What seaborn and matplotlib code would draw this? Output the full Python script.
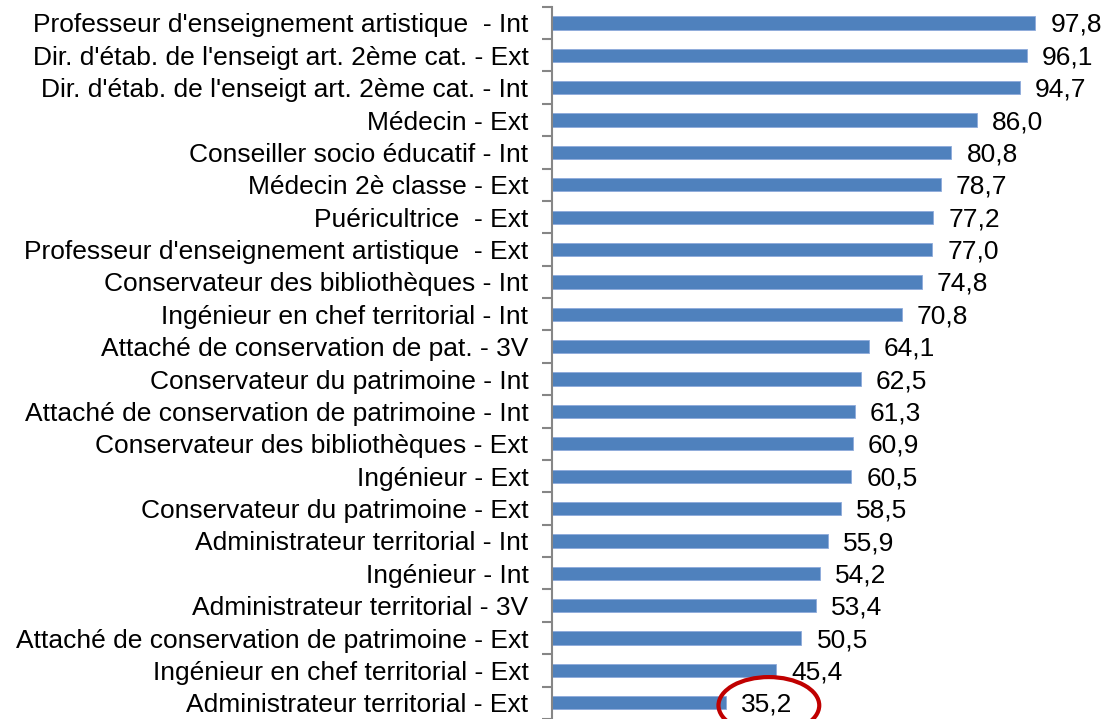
import matplotlib
matplotlib.use("Agg")
import matplotlib.pyplot as plt
import seaborn as sns
import pandas as pd
from matplotlib.patches import Ellipse
from matplotlib.ticker import FixedLocator

sns.set_style("white")
plt.rcParams['font.family'] = ['Liberation Sans', 'DejaVu Sans']
plt.rcParams['text.color'] = 'black'
plt.rcParams['ytick.labelcolor'] = 'black'

# data, top to bottom as in the chart
categories = [
    "Professeur d'enseignement artistique  - Int",
    "Dir. d'étab. de l'enseigt art. 2ème cat. - Ext",
    "Dir. d'étab. de l'enseigt art. 2ème cat. - Int",
    "Médecin - Ext",
    "Conseiller socio éducatif - Int",
    "Médecin 2è classe - Ext",
    "Puéricultrice  - Ext",
    "Professeur d'enseignement artistique  - Ext",
    "Conservateur des bibliothèques - Int",
    "Ingénieur en chef territorial - Int",
    "Attaché de conservation de pat. - 3V",
    "Conservateur du patrimoine - Int",
    "Attaché de conservation de patrimoine - Int",
    "Conservateur des bibliothèques - Ext",
    "Ingénieur - Ext",
    "Conservateur du patrimoine - Ext",
    "Administrateur territorial - Int",
    "Ingénieur - Int",
    "Administrateur territorial - 3V",
    "Attaché de conservation de patrimoine - Ext",
    "Ingénieur en chef territorial - Ext",
    "Administrateur territorial - Ext",
]
values = [97.8, 96.1, 94.7, 86.0, 80.8, 78.7, 77.2, 77.0, 74.8, 70.8, 64.1,
          62.5, 61.3, 60.9, 60.5, 58.5, 55.9, 54.2, 53.4, 50.5, 45.4, 35.2]

df = pd.DataFrame({'cat': categories, 'val': values})

fig = plt.figure(figsize=(11.05, 7.19), dpi=100)
ax = fig.add_axes([552 / 1105, 0.0, (1046 - 552) / 1105, 1 - 6.7 / 719])

sns.barplot(data=df, y='cat', x='val', orient='h', color='#4F81BD',
            saturation=1, width=0.41, edgecolor='#8EAADB', linewidth=0.6, ax=ax)

ax.set_xlim(0, 100)
ax.set_ylim(len(categories) - 0.5, -0.5)
ax.set_xlabel('')
ax.set_ylabel('')
ax.set_xticks([])

# value labels with french decimal comma
anns = ax.bar_label(ax.containers[0],
                    labels=[f"{v:.1f}".replace('.', ',') for v in values],
                    padding=11, fontsize=19, color='black', clip_on=False)
for a in anns:
    a.xyann = (11, -1.5)

# axis styling
for s in ['top', 'right', 'bottom']:
    ax.spines[s].set_visible(False)
ax.spines['left'].set_color('#868686')
ax.spines['left'].set_linewidth(1.5)
ax.tick_params(axis='y', which='major', length=0, pad=17, labelsize=19,
               labelcolor='black')
ax.yaxis.set_minor_locator(FixedLocator([i - 0.5 for i in range(len(categories) + 1)]))
ax.tick_params(axis='y', which='minor', length=7, width=1.5, color='#868686',
               direction='out', left=True)

# red ellipse around the lowest value
last = len(values) - 1
ell = Ellipse((values[last] + 8.7, last + 0.08), width=20.4, height=1.75,
              fill=False, edgecolor='#C00000', linewidth=3, clip_on=False)
ax.add_patch(ell)

fig.savefig('out.png', dpi=100)
